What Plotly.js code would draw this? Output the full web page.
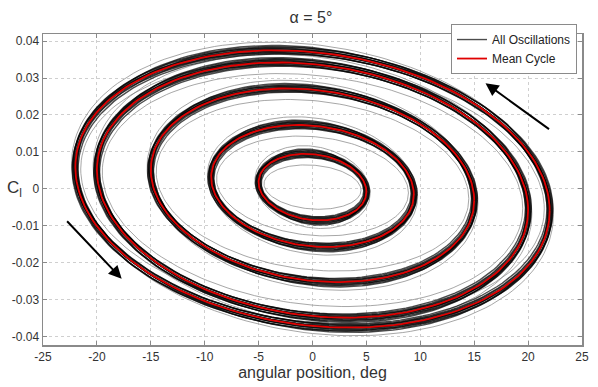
<!DOCTYPE html>
<html>
<head>
<meta charset="utf-8">
<script src="https://cdn.plot.ly/plotly-3.0.1.min.js"></script>
<style>html,body{margin:0;padding:0;background:#fff;}#chart{width:598px;height:387px;}</style>
</head>
<body>
<div id="chart"></div>
<script>
// Mean cycle ellipses
const ampX = [5.0, 9.4, 15.0, 20.0, 22.0];          // deg half-amplitude
const ampY = [0.0090, 0.0165, 0.0262, 0.0345, 0.0375]; // Cl half-amplitude
const offY = [0.0005, 0.0008, 0.0010, -0.0003, 0.0];    // Cl centre
const phaseDeg = [8, 8, 9, 9, 9];                        // tilt (phase lag)

// Cycle-to-cycle spread (all oscillations)
const blackDA = [-0.25, -0.15, -0.05, 0.0, 0.1, 0.2, 0.3, -0.1, 0.15, 0.05, 0.25, -0.2];
const blackDB = [-0.0010, -0.0008, -0.0006, -0.0004, -0.0002, 0.0, 0.0002, 0.0004, 0.0006, 0.0008, 0.0010, 0.0013];
const grayDA = [-0.5, 0.35];
const grayDB = [-0.0030, 0.0022];

const xTicks = [-25, -20, -15, -10, -5, 0, 5, 10, 15, 20, 25];
const xTickText = ['-25', '-20', '-15', '-10', '-5', '0', '5', '10', '15', '20', '25'];
const yTicks = [-0.04, -0.03, -0.02, -0.01, 0, 0.01, 0.02, 0.03, 0.04];
const yTickText = ['-0.04', '-0.03', '-0.02', '-0.01', '0', '0.01', '0.02', '0.03', '0.04'];

const N = 181;
function ellipse(A, B, y0, phDeg, xs, ys) {
  const ph = phDeg * Math.PI / 180;
  for (let k = 0; k < N; k++) {
    const t = 2 * Math.PI * k / (N - 1);
    xs.push(A * Math.cos(t));
    ys.push(y0 - B * Math.sin(t + ph));
  }
  xs.push(null); ys.push(null);
}

const bx = [], by = [], gx = [], gy = [], rx = [], ry = [];
for (let i = 0; i < ampX.length; i++) {
  for (let j = 0; j < blackDA.length; j++) {
    ellipse(ampX[i] + blackDA[j], ampY[i] + blackDB[j], offY[i], phaseDeg[i] + (j % 3 - 1) * 0.7, bx, by);
  }
  for (let j = 0; j < grayDA.length; j++) {
    ellipse(ampX[i] + grayDA[j], ampY[i] + grayDB[j], offY[i], phaseDeg[i] + j, gx, gy);
  }
  ellipse(ampX[i], ampY[i], offY[i], phaseDeg[i], rx, ry);
}

const traces = [
  {x: gx, y: gy, mode: 'lines', line: {color: 'rgba(130,130,130,0.7)', width: 1}, showlegend: false, hoverinfo: 'skip'},
  {x: bx, y: by, mode: 'lines', name: 'All Oscillations', line: {color: 'rgba(0,0,0,0.7)', width: 1.4}},
  {x: rx, y: ry, mode: 'lines', name: 'Mean Cycle', line: {color: '#e00000', width: 1.8}}
];

const axisCommon = {
  showline: true, linecolor: '#8a8a8a', linewidth: 1.5, mirror: 'ticks',
  ticks: 'inside', ticklen: 4, tickcolor: '#8a8a8a',
  showgrid: true, gridcolor: '#cfcfcf', griddash: 'dot', gridwidth: 1,
  zeroline: false, tickfont: {family: 'Liberation Sans, Arial, sans-serif', size: 12, color: '#333'}
};

const layout = {
  width: 598, height: 387,
  margin: {l: 43, r: 16, t: 34, b: 42},
  paper_bgcolor: '#fff', plot_bgcolor: '#fff',
  title: {text: 'α = 5°', font: {family: 'Liberation Sans, Arial, sans-serif', size: 16, color: '#333'}, x: 0.52, xanchor: 'center', y: 0.955, yanchor: 'middle'},
  xaxis: Object.assign({}, axisCommon, {range: [-25, 25], tickvals: xTicks, ticktext: xTickText,
    title: {text: 'angular position, deg', font: {family: 'Liberation Sans, Arial, sans-serif', size: 16, color: '#333'}, standoff: 4}}),
  yaxis: Object.assign({}, axisCommon, {range: [-0.0422, 0.0419], tickvals: yTicks, ticktext: yTickText}),
  legend: {x: 0.757, y: 1.032, xanchor: 'left', yanchor: 'top', bgcolor: '#fff', bordercolor: '#8a8a8a', borderwidth: 1,
    font: {family: 'Liberation Sans, Arial, sans-serif', size: 12, color: '#222'}, itemwidth: 30, tracegroupgap: 0},
  annotations: [
    {text: 'C<sub>l</sub>', xref: 'paper', yref: 'y', x: -0.052, y: 0, xanchor: 'center', yanchor: 'middle', showarrow: false,
     font: {family: 'Liberation Sans, Arial, sans-serif', size: 17, color: '#333'}},
    {x: 16.05, y: 0.0286, xref: 'x', yref: 'y', ax: 65, ay: 47, text: '', showarrow: true, arrowhead: 2, arrowsize: 1.3, arrowwidth: 2, arrowcolor: '#000'},
    {x: -17.7, y: -0.0243, xref: 'x', yref: 'y', ax: -56, ay: -59, text: '', showarrow: true, arrowhead: 2, arrowsize: 1.3, arrowwidth: 2, arrowcolor: '#000'}
  ]
};

Plotly.newPlot('chart', traces, layout, {displayModeBar: false, staticPlot: true});
</script>
</body>
</html>
